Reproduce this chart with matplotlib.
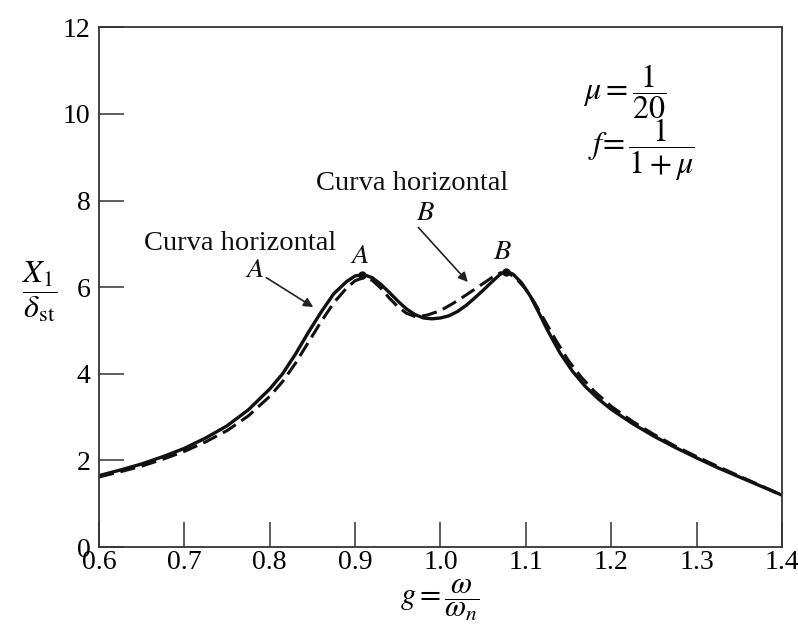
import matplotlib.pyplot as plt

plt.rcParams['font.family'] = ['Liberation Serif', 'DejaVu Serif']
plt.rcParams['mathtext.fontset'] = 'stix'

# solid curve
g_solid = [0.60, 0.625, 0.65, 0.675, 0.70, 0.725, 0.75, 0.775, 0.80, 0.815,
           0.83, 0.845, 0.86, 0.875, 0.89, 0.90, 0.91, 0.92, 0.93, 0.94,
           0.95, 0.96, 0.97, 0.98, 0.99, 1.00, 1.01, 1.02, 1.03, 1.04,
           1.05, 1.06, 1.07, 1.078, 1.085, 1.095, 1.105, 1.115, 1.125, 1.14,
           1.155, 1.17, 1.185, 1.20, 1.225, 1.25, 1.275, 1.30, 1.325, 1.35,
           1.375, 1.40]
x_solid = [1.65, 1.78, 1.92, 2.09, 2.28, 2.52, 2.80, 3.17, 3.65, 4.00,
           4.45, 4.95, 5.42, 5.85, 6.13, 6.26, 6.29, 6.22, 6.07, 5.88,
           5.68, 5.50, 5.37, 5.29, 5.27, 5.29, 5.34, 5.44, 5.58, 5.75,
           5.93, 6.12, 6.30, 6.36, 6.30, 6.10, 5.80, 5.42, 5.02, 4.48,
           4.05, 3.70, 3.42, 3.18, 2.85, 2.56, 2.30, 2.06, 1.83, 1.62,
           1.41, 1.20]

# dashed curve
g_dash = [0.60, 0.625, 0.65, 0.675, 0.70, 0.725, 0.75, 0.775, 0.80, 0.815,
          0.83, 0.845, 0.86, 0.875, 0.89, 0.90, 0.91, 0.92, 0.93, 0.94,
          0.95, 0.96, 0.972, 0.985, 1.00, 1.015, 1.03, 1.045, 1.06, 1.07,
          1.078, 1.088, 1.10, 1.11, 1.12, 1.135, 1.15, 1.165, 1.18, 1.20,
          1.225, 1.25, 1.275, 1.30, 1.325, 1.35, 1.375, 1.40]
x_dash = [1.62, 1.74, 1.87, 2.03, 2.21, 2.43, 2.69, 3.03, 3.48, 3.82,
          4.24, 4.72, 5.20, 5.64, 5.98, 6.15, 6.22, 6.16, 5.98, 5.75,
          5.55, 5.40, 5.31, 5.36, 5.46, 5.63, 5.82, 6.02, 6.22, 6.33,
          6.34, 6.22, 5.95, 5.65, 5.30, 4.78, 4.30, 3.92, 3.60, 3.25,
          2.90, 2.60, 2.33, 2.09, 1.86, 1.64, 1.42, 1.20]

peaks_g = [0.908, 1.077]
peaks_x = [6.28, 6.36]

fig = plt.figure(figsize=(7.98, 6.34), dpi=100)
ax = fig.add_axes([0.124, 0.137, 0.856, 0.820])

ax.plot(g_solid, x_solid, color='#111111', lw=2.4, solid_joinstyle='round')
ax.plot(g_dash, x_dash, color='#111111', lw=2.2, dashes=(5, 2.2),
        dash_joinstyle='round')
ax.plot(peaks_g, peaks_x, 'o', color='#111111', ms=5)

ax.set_xlim(0.6, 1.4)
ax.set_ylim(0, 12)
ax.set_xticks([0.6, 0.7, 0.8, 0.9, 1.0, 1.1, 1.2, 1.3, 1.4])
ax.set_yticks([0, 2, 4, 6, 8, 10, 12])
ax.set_xticklabels(['0.6', '0.7', '0.8', '0.9', '1.0', '1.1', '1.2', '1.3', '1.4'])
ax.tick_params(direction='in', length=18, width=1.1, labelsize=20,
               color='#333333', pad=2)
ax.tick_params(axis='y', pad=6)
for s in ax.spines.values():
    s.set_linewidth(1.3)
    s.set_color('#333333')

txt = dict(fontsize=20.5, color='#111111', ha='center', va='center')
ax.text(0.765, 7.02, 'Curva horizontal', **txt)
ax.text(0.783, 6.38, r'$A$', **txt)
ax.text(0.967, 8.40, 'Curva horizontal', **txt)
ax.text(0.982, 7.71, r'$B$', **txt)
ax.text(0.906, 6.72, r'$A$', **txt)
ax.text(1.073, 6.80, r'$B$', **txt)

arr = dict(arrowstyle='-|>', lw=1.2, color='#222222', mutation_scale=14,
           shrinkA=0, shrinkB=0)
ax.annotate('', xy=(0.851, 5.54), xytext=(0.796, 6.22), arrowprops=arr)
ax.annotate('', xy=(1.032, 6.12), xytext=(0.974, 7.38), arrowprops=arr)

ax.text(0.708, 0.877, r'$\mu = \dfrac{1}{20}$', transform=ax.transAxes,
        fontsize=23, ha='left', va='center')
ax.text(0.716, 0.765, r'$f\!= \dfrac{1}{1 + \mu}$', transform=ax.transAxes,
        fontsize=23, ha='left', va='center')

fig.text(40 / 798, 1 - 292 / 634, r'$\dfrac{X_1}{\delta_{\rm st}}$',
         fontsize=23, ha='center', va='center')
fig.text(440 / 798, 1 - 600 / 634, r'$g = \dfrac{\omega}{\omega_n}$',
         fontsize=22, ha='center', va='center')

fig.savefig('out.png', dpi=100)
